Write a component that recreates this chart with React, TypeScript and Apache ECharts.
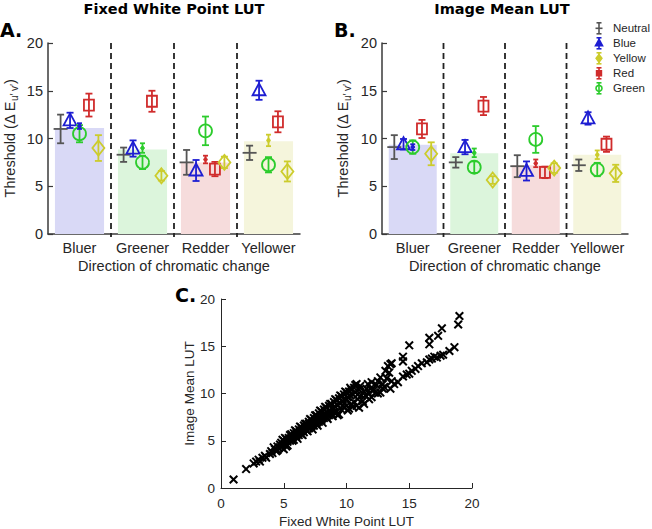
import React, { useEffect, useRef } from "react";
import * as echarts from "echarts";

// ---------- DATA ----------
const categories = ["Bluer", "Greener", "Redder", "Yellower"];
const legendNames = ["Neutral", "Blue", "Yellow", "Red", "Green"];

// Panel A: Fixed White Point LUT
const fixedBars = [11.1, 8.85, 7.5, 9.7];
const fixedNeutral = [11.0, 8.3, 7.5, 8.5];
const fixedNeutralErr = [1.5, 0.75, 1.3, 0.75];
const fixedBlue = [11.9, 8.95, 6.65, 15.05];
const fixedBlueErr = [0.8, 0.85, 1.1, 1.0];
const fixedGreen = [10.5, 7.5, 10.8, 7.25];
const fixedGreenErr = [0.9, 0.7, 1.5, 0.8];
const fixedRed = [13.5, 13.9, 6.8, 11.75];
const fixedRedErr = [1.2, 1.1, 0.75, 1.1];
const fixedYellow = [9.0, 6.1, 7.5, 6.55];
const fixedYellowErr = [1.35, 0.5, 0.6, 1.05];
const fixedMatched = [11.3, 9.0, 7.8, 9.8];
const fixedMatchedErr = [0.3, 0.5, 0.4, 0.6];

// Panel B: Image Mean LUT
const meanBars = [9.35, 8.45, 7.2, 8.3];
const meanNeutral = [9.1, 7.5, 7.1, 7.2];
const meanNeutralErr = [1.25, 0.55, 1.15, 0.6];
const meanBlue = [9.4, 9.1, 6.6, 12.1];
const meanBlueErr = [0.55, 0.75, 1.0, 0.65];
const meanGreen = [9.1, 7.0, 9.9, 6.75];
const meanGreenErr = [0.7, 0.6, 1.4, 0.7];
const meanRed = [11.0, 13.4, 6.45, 9.4];
const meanRedErr = [0.95, 0.95, 0.6, 0.8];
const meanYellow = [8.4, 5.65, 6.9, 6.35];
const meanYellowErr = [1.2, 0.4, 0.5, 0.9];
const meanMatched = [9.1, 8.5, 7.4, 8.3];
const meanMatchedErr = [0.3, 0.45, 0.4, 0.45];

const yTicks = [0, 5, 10, 15, 20];

// Panel C: per-threshold comparison [Fixed White Point LUT, Image Mean LUT]
const scatterPoints: number[][] = [
  [1.0, 0.9], [2.0, 2.0], [2.6, 2.6], [2.8, 2.8], [3.0, 3.0], [3.1, 2.8], [3.3, 3.2], [3.5, 3.4],
  [3.6, 3.2], [3.9, 3.6], [4.0, 3.9], [4.1, 3.7], [4.3, 4.1], [4.4, 3.9], [4.5, 4.4], [4.6, 4.2],
  [4.7, 4.6], [4.8, 4.3], [4.8, 4.8], [4.9, 4.5], [5.0, 5.0], [5.0, 4.1], [5.1, 4.7], [5.2, 5.2],
  [5.2, 4.4], [5.3, 4.9], [5.4, 5.3], [5.5, 5.0], [5.5, 5.6], [5.6, 5.2], [5.7, 5.5], [5.8, 5.8],
  [5.8, 5.1], [5.9, 5.5], [6.0, 6.0], [6.0, 5.4], [6.1, 5.7], [6.2, 6.2], [6.2, 5.6], [6.3, 5.9],
  [6.4, 6.4], [6.4, 5.7], [6.5, 6.1], [6.6, 6.6], [6.6, 5.9], [6.7, 6.3], [6.8, 6.8], [6.8, 6.1],
  [6.9, 6.5], [7.0, 7.0], [7.0, 6.3], [7.1, 6.7], [7.2, 7.2], [7.2, 6.5], [7.3, 6.9], [7.4, 7.4],
  [7.4, 6.6], [7.5, 7.1], [7.6, 7.7], [7.6, 6.8], [7.7, 7.3], [7.8, 7.9], [7.8, 7.0], [7.9, 7.5],
  [8.0, 8.1], [8.0, 7.2], [8.1, 7.7], [8.2, 8.3], [8.2, 7.4], [8.3, 7.9], [8.4, 8.5], [8.4, 7.5],
  [8.5, 8.0], [8.6, 8.7], [8.6, 7.7], [8.7, 8.2], [8.8, 8.9], [8.8, 7.9], [8.9, 8.4], [9.0, 9.1],
  [9.0, 8.0], [9.1, 8.6], [9.2, 9.3], [9.2, 8.1], [9.3, 8.8], [9.4, 9.5], [9.4, 7.8], [9.5, 9.0],
  [9.6, 9.7], [9.6, 8.3], [9.7, 9.2], [9.8, 9.9], [9.8, 8.5], [9.9, 9.4], [10.0, 10.1], [10.0, 8.7],
  [10.1, 9.6], [10.2, 10.2], [10.2, 8.4], [10.3, 9.8], [10.4, 10.4], [10.4, 8.9], [10.5, 9.9],
  [10.6, 10.6], [10.6, 9.1], [10.7, 10.1], [10.8, 11.0], [10.8, 8.7], [10.9, 9.4], [11.0, 10.4],
  [11.0, 8.5], [11.2, 9.8], [11.3, 9.2], [11.5, 9.8], [11.6, 10.5], [11.8, 10.0], [11.9, 10.5],
  [12.0, 9.6], [12.0, 11.2], [12.3, 10.1], [12.4, 10.9], [12.7, 11.7], [12.7, 10.1], [12.9, 11.0],
  [12.9, 10.5], [13.1, 12.4], [13.3, 12.9], [13.4, 12.2], [13.5, 13.1], [13.5, 10.5], [13.6, 11.3],
  [13.6, 13.2], [13.8, 11.0], [14.1, 11.2], [14.5, 13.9], [14.5, 13.4], [14.5, 11.8], [14.8, 12.0],
  [15.0, 15.1], [15.0, 12.1], [15.2, 12.4], [15.5, 12.6], [15.7, 12.9], [16.0, 13.2], [16.4, 13.3],
  [16.6, 15.9], [16.6, 15.2], [16.6, 13.6], [16.8, 13.7], [17.0, 13.9], [17.2, 13.8], [17.3, 16.1],
  [17.5, 14.0], [17.6, 16.9], [17.7, 14.1], [18.2, 14.5], [18.6, 14.9], [18.9, 17.3], [19.0, 18.2],
  [4.2, 4.3], [4.5, 4.0], [4.9, 5.1], [5.1, 5.3], [5.3, 4.5], [5.6, 5.7], [5.7, 5.0], [5.9, 6.1],
  [6.1, 5.2], [6.3, 6.5], [6.5, 5.6], [6.7, 6.8], [6.9, 6.0], [7.1, 7.3], [7.3, 6.2], [7.5, 7.7],
  [7.7, 6.6], [7.9, 8.2], [8.1, 6.9], [8.3, 8.6], [8.5, 7.3], [8.7, 8.9], [8.9, 7.6], [9.1, 9.4],
  [9.3, 7.7], [9.5, 9.8], [9.7, 8.7], [9.9, 10.2], [10.1, 8.2], [10.3, 10.6], [10.5, 8.6], [10.7, 10.9],
  [10.9, 9.9], [11.1, 10.8], [11.4, 10.2], [11.7, 11.0], [11.4, 8.9], [12.2, 10.4], [12.5, 11.3],
  [10.0, 9.3], [9.0, 8.4], [8.0, 7.6], [7.0, 6.8], [6.0, 5.8], [11.8, 9.4], [12.5, 10.0], [13.0, 10.7],
  [13.2, 11.6],
];

// ---------- STYLE ----------
// colour index: 0 neutral, 1 blue, 2 yellow, 3 red, 4 green
const COLORS = ["#555555", "#1e1ed2", "#cccc2c", "#d02c2c", "#2ccc2c"];
const BAR_COLORS = ["#d9d9f6", "#dcf5dc", "#f6dcdc", "#f5f5dc"];
const matchedColor = [1, 4, 3, 2];
const AXIS = "#3a3a3a";
const TXT = "#262626";
const FONT = "Liberation Sans";

function buildMarkers(
  neutral: number[], neutralErr: number[], blue: number[], blueErr: number[],
  green: number[], greenErr: number[], red: number[], redErr: number[],
  yellow: number[], yellowErr: number[], matched: number[], matchedErr: number[]
) {
  const d: number[][] = [];
  [1.5, 2.5, 3.5].forEach((x) => d.push([x, 0, 0, 6, 0]));
  for (let i = 0; i < 4; i++) {
    const c = i + 1;
    d.push([c - 0.3, neutral[i], neutralErr[i], 0, 0]);
    d.push([c - 0.15, blue[i], blueErr[i], 1, 1]);
    d.push([c, green[i], greenErr[i], 2, 4]);
    d.push([c + 0.15, red[i], redErr[i], 3, 3]);
    d.push([c + 0.3, yellow[i], yellowErr[i], 4, 2]);
    d.push([c, matched[i], matchedErr[i], 5, matchedColor[i]]);
  }
  return d;
}

function renderMarker(params: any, api: any) {
  const x = api.value(0);
  const y = api.value(1);
  const e = api.value(2);
  const kind = api.value(3);
  const color = COLORS[api.value(4)];
  if (kind === 6) {
    const t = api.coord([x, 20]);
    const b = api.coord([x, 0]);
    return {
      type: "line",
      shape: { x1: t[0], y1: t[1], x2: b[0], y2: b[1] + 3 },
      style: { stroke: "#222", lineWidth: 1.8, lineDash: [6, 4] },
    };
  }
  const p = api.coord([x, y]);
  const top = api.coord([x, y + e]);
  const bot = api.coord([x, y - e]);
  const cx = p[0];
  const cy = p[1];
  const lw = 1.8;
  const cap = kind === 5 ? 2.5 : 3.5;
  const st = { stroke: color, lineWidth: lw, fill: "none" };
  const children: any[] = [
    { type: "line", shape: { x1: cx, y1: top[1], x2: cx, y2: bot[1] }, style: st },
    { type: "line", shape: { x1: cx - cap, y1: top[1], x2: cx + cap, y2: top[1] }, style: st },
    { type: "line", shape: { x1: cx - cap, y1: bot[1], x2: cx + cap, y2: bot[1] }, style: st },
  ];
  if (kind === 0) {
    children.push({ type: "line", shape: { x1: cx - 7, y1: cy, x2: cx + 7, y2: cy }, style: st });
  } else if (kind === 1) {
    children.push({
      type: "polygon",
      shape: { points: [[cx, cy - 7], [cx - 6.5, cy + 5], [cx + 6.5, cy + 5]] },
      style: st,
    });
  } else if (kind === 2) {
    children.push({ type: "circle", shape: { cx, cy, r: 6.5 }, style: st });
  } else if (kind === 3) {
    children.push({ type: "rect", shape: { x: cx - 5, y: cy - 5.5, width: 10, height: 11 }, style: st });
  } else if (kind === 4) {
    children.push({
      type: "polygon",
      shape: { points: [[cx, cy - 7.5], [cx + 6, cy], [cx, cy + 7.5], [cx - 6, cy]] },
      style: st,
    });
  } else if (kind === 5) {
    children.push({ type: "circle", shape: { cx, cy, r: 1.8 }, style: { fill: color, stroke: color, lineWidth: 1 } });
  }
  return { type: "group", children };
}

function renderCross(params: any, api: any) {
  const p = api.coord([api.value(0), api.value(1)]);
  const h = 3.8;
  const st = { stroke: "#000", lineWidth: 2 };
  return {
    type: "group",
    children: [
      { type: "line", shape: { x1: p[0] - h, y1: p[1] - h, x2: p[0] + h, y2: p[1] + h }, style: st },
      { type: "line", shape: { x1: p[0] - h, y1: p[1] + h, x2: p[0] + h, y2: p[1] - h }, style: st },
    ],
  };
}

const yName = "{a|Threshold (Δ E}{s|u′ v′}{a|)}";
const yNameRich = {
  a: { fontSize: 14.5, color: TXT, fontFamily: FONT },
  s: { fontSize: 10, color: TXT, fontFamily: FONT, padding: [8, 0, 0, 0] },
};

function panelAxes(grid: number, nameGapY: number) {
  const cat = {
    gridIndex: grid,
    type: "category",
    data: categories,
    axisLine: { show: true, lineStyle: { color: AXIS, width: 1.5 } },
    axisTick: { show: true, inside: true, alignWithLabel: true, length: 4, lineStyle: { color: AXIS, width: 1.2 } },
    axisLabel: { fontSize: 14.5, color: TXT, margin: 6, fontFamily: FONT, interval: 0 },
    name: "Direction of chromatic change",
    nameLocation: "middle",
    nameGap: 24,
    nameTextStyle: { fontSize: 14.5, color: TXT, fontFamily: FONT },
    splitLine: { show: false },
  };
  const val = { gridIndex: grid, type: "value", min: 0.5, max: 4.5, show: false };
  const y = {
    gridIndex: grid,
    type: "value",
    min: 0,
    max: 20,
    interval: 5,
    axisLine: { show: true, lineStyle: { color: AXIS, width: 1.5 } },
    axisTick: { show: true, inside: true, length: 5, lineStyle: { color: AXIS, width: 1.2 } },
    axisLabel: { fontSize: 14.5, color: TXT, margin: 5, fontFamily: FONT, formatter: (v: number) => (yTicks.includes(v) ? String(v) : "") },
    splitLine: { show: false },
    name: yName,
    nameLocation: "middle",
    nameGap: nameGapY,
    nameTextStyle: { fontSize: 14.5, color: TXT, fontFamily: FONT, rich: yNameRich },
  };
  return { cat, val, y };
}

function legendGraphic() {
  const ys = [28.3, 43.3, 58.3, 73.3, 88.3];
  const colorIdx = [0, 1, 2, 3, 4];
  const els: any[] = [];
  const ix = 599;
  legendNames.forEach((name, i) => {
    const c = COLORS[colorIdx[i]];
    const yc = ys[i];
    const st = { stroke: c, lineWidth: 1.6, fill: "none" };
    els.push({ type: "line", shape: { x1: ix, y1: yc - 5.5, x2: ix, y2: yc + 5.5 }, style: st });
    els.push({ type: "line", shape: { x1: ix - 2.5, y1: yc - 5.5, x2: ix + 2.5, y2: yc - 5.5 }, style: st });
    els.push({ type: "line", shape: { x1: ix - 2.5, y1: yc + 5.5, x2: ix + 2.5, y2: yc + 5.5 }, style: st });
    if (i === 0) {
      els.push({ type: "line", shape: { x1: ix - 3.5, y1: yc, x2: ix + 3.5, y2: yc }, style: st });
    } else if (i === 1) {
      els.push({ type: "polygon", shape: { points: [[ix, yc - 4], [ix - 3.5, yc + 2.5], [ix + 3.5, yc + 2.5]] }, style: { stroke: c, lineWidth: 1.6, fill: c } });
    } else if (i === 2) {
      els.push({ type: "polygon", shape: { points: [[ix, yc - 4], [ix + 3, yc], [ix, yc + 4], [ix - 3, yc]] }, style: { stroke: c, lineWidth: 1.4, fill: c } });
    } else if (i === 3) {
      els.push({ type: "rect", shape: { x: ix - 2.5, y: yc - 2.5, width: 5, height: 5 }, style: { stroke: c, lineWidth: 1.4, fill: c } });
    } else {
      els.push({ type: "circle", shape: { cx: ix, cy: yc, r: 3 }, style: st });
    }
    els.push({
      type: "text",
      x: 613,
      y: yc,
      style: { text: name, fontSize: 11.5, fill: TXT, fontFamily: FONT, verticalAlign: "middle", align: "left" },
    });
  });
  return els;
}

export default function App() {
  const ref = useRef<HTMLDivElement>(null);
  useEffect(() => {
    if (!ref.current) return;
    const chart = echarts.init(ref.current, undefined, { renderer: "svg" });
    const A = panelAxes(0, 29);
    const B = panelAxes(1, 30);
    const markersA = buildMarkers(fixedNeutral, fixedNeutralErr, fixedBlue, fixedBlueErr, fixedGreen, fixedGreenErr,
      fixedRed, fixedRedErr, fixedYellow, fixedYellowErr, fixedMatched, fixedMatchedErr);
    const markersB = buildMarkers(meanNeutral, meanNeutralErr, meanBlue, meanBlueErr, meanGreen, meanGreenErr,
      meanRed, meanRedErr, meanYellow, meanYellowErr, meanMatched, meanMatchedErr);

    const option: any = {
      animation: false,
      textStyle: { fontFamily: FONT },
      grid: [
        { left: 48, top: 43, width: 252, height: 191 },
        { left: 382, top: 43, width: 246, height: 191 },
        { left: 221, top: 299, width: 251, height: 190 },
      ],
      xAxis: [
        A.cat, A.val, B.cat, B.val,
        {
          gridIndex: 2, type: "value", min: 0, max: 20, interval: 5,
          axisLine: { show: true, lineStyle: { color: TXT, width: 1 } },
          axisTick: { show: true, inside: true, length: 5, lineStyle: { color: TXT } },
          axisLabel: { fontSize: 13.5, color: TXT, margin: 8, fontFamily: FONT },
          splitLine: { show: false },
          name: "Fixed White Point LUT", nameLocation: "middle", nameGap: 26,
          nameTextStyle: { fontSize: 13.5, color: TXT, fontFamily: FONT },
        },
      ],
      yAxis: [
        A.y, B.y,
        {
          gridIndex: 2, type: "value", min: 0, max: 20, interval: 5,
          axisLine: { show: true, lineStyle: { color: TXT, width: 1 } },
          axisTick: { show: true, inside: true, length: 5, lineStyle: { color: TXT } },
          axisLabel: { fontSize: 13.5, color: TXT, margin: 6, fontFamily: FONT },
          splitLine: { show: false },
          name: "Image Mean LUT", nameLocation: "middle", nameGap: 23,
          nameTextStyle: { fontSize: 13.5, color: TXT, fontFamily: FONT },
        },
      ],
      series: [
        {
          type: "bar", xAxisIndex: 0, yAxisIndex: 0, barWidth: "78%", silent: true, z: 1,
          data: fixedBars.map((v, i) => ({ value: v, itemStyle: { color: BAR_COLORS[i] } })),
        },
        {
          type: "custom", xAxisIndex: 1, yAxisIndex: 0, renderItem: renderMarker, clip: false, z: 10,
          data: markersA, silent: true,
        },
        {
          type: "bar", xAxisIndex: 2, yAxisIndex: 1, barWidth: "78%", silent: true, z: 1,
          data: meanBars.map((v, i) => ({ value: v, itemStyle: { color: BAR_COLORS[i] } })),
        },
        {
          type: "custom", xAxisIndex: 3, yAxisIndex: 1, renderItem: renderMarker, clip: false, z: 10,
          data: markersB, silent: true,
        },
        {
          type: "custom", xAxisIndex: 4, yAxisIndex: 2, renderItem: renderCross, clip: false, z: 10,
          data: scatterPoints, silent: true,
        },
      ],
      graphic: [
        { type: "text", x: 174, y: 9, style: { text: "Fixed White Point LUT", fontSize: 14.5, fontWeight: "bold", fontFamily: "DejaVu Sans", fill: "#000", align: "center", verticalAlign: "middle" } },
        { type: "text", x: 502, y: 9, style: { text: "Image Mean LUT", fontSize: 14.5, fontWeight: "bold", fontFamily: "DejaVu Sans", fill: "#000", align: "center", verticalAlign: "middle" } },
        { type: "text", x: 0, y: 30, style: { text: "A.", fontSize: 19, fontWeight: "bold", fontFamily: "DejaVu Sans", fill: "#000", align: "left", verticalAlign: "middle" } },
        { type: "text", x: 334, y: 30, style: { text: "B.", fontSize: 19, fontWeight: "bold", fontFamily: "DejaVu Sans", fill: "#000", align: "left", verticalAlign: "middle" } },
        { type: "text", x: 175, y: 295, style: { text: "C.", fontSize: 19, fontWeight: "bold", fontFamily: "DejaVu Sans", fill: "#000", align: "left", verticalAlign: "middle" } },
        ...legendGraphic(),
      ],
    };
    chart.setOption(option);
    return () => chart.dispose();
  }, []);
  return (
    <div
      ref={ref}
      style={{ position: "absolute", left: 0, top: 0, width: 652, height: 529, background: "#fff" }}
    />
  );
}
